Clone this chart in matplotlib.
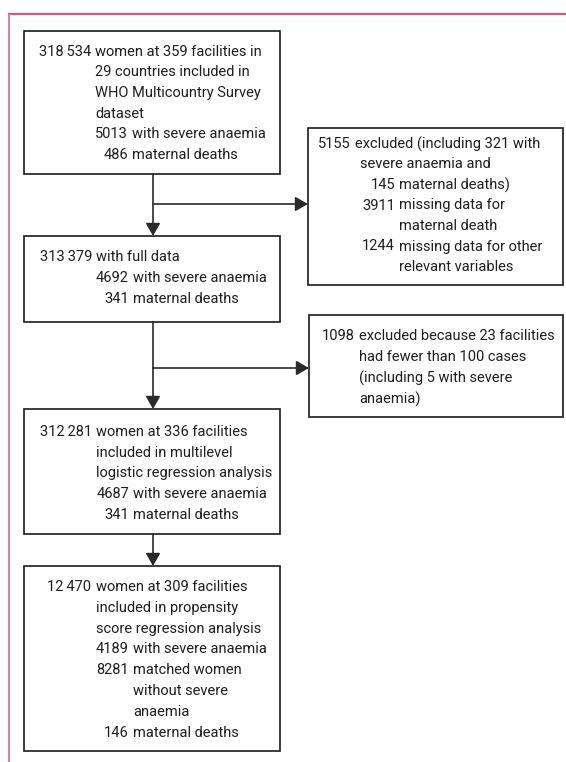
import matplotlib.pyplot as plt
from matplotlib.patches import Rectangle

plt.rcParams['font.family'] = ['Roboto', 'DejaVu Sans']

TS = '\u2009'  # thin space used as thousands separator

# box contents: (number, text, level)
box_cohort = [
    ('318' + TS + '534', 'women at 359 facilities in', 0),
    (None, '29 countries included in', 0),
    (None, 'WHO Multicountry Survey', 0),
    (None, 'dataset', 0),
    ('5013', 'with severe anaemia', 1),
    ('486', 'maternal deaths', 1),
]
box_excl1 = [
    ('5155', 'excluded (including 321 with', 0),
    (None, 'severe anaemia and', 2),
    ('145', 'maternal deaths)', 1),
    ('3911', 'missing data for', 1),
    (None, 'maternal death', 1),
    ('1244', 'missing data for other', 1),
    (None, 'relevant variables', 1),
]
box_full = [
    ('313' + TS + '379', 'with full data', 0),
    ('4692', 'with severe anaemia', 1),
    ('341', 'maternal deaths', 1),
]
box_excl2 = [
    ('1098', 'excluded because 23 facilities', 0),
    (None, 'had fewer than 100 cases', 0),
    (None, '(including 5 with severe', 0),
    (None, 'anaemia)', 0),
]
box_multi = [
    ('312' + TS + '281', 'women at 336 facilities', 0),
    (None, 'included in multilevel', 0),
    (None, 'logistic regression analysis', 0),
    ('4687', 'with severe anaemia', 1),
    ('341', 'maternal deaths', 1),
]
box_prop = [
    ('12' + TS + '470', 'women at 309 facilities', 0),
    (None, 'included in propensity', 0),
    (None, 'score regression analysis', 0),
    ('4189', 'with severe anaemia', 1),
    ('8281', 'matched women', 1),
    (None, 'without severe', 1),
    (None, 'anaemia', 1),
    ('146', 'maternal deaths', 1),
]

# layout in pixel coordinates: rect (x0, y0, x1, y1), first line y, line step,
# columns per level: (number right edge, text left edge)
layout = [
    (box_cohort, (24, 31, 280, 174), 51.5, 20.7, [(91, 95), (128, 132)]),
    (box_excl1, (308, 128, 563, 285), 144, 20.5, [(351, 355), (395, 399), (None, 360)]),
    (box_full, (24, 236, 280, 322), 257, 21, [(92, 96), (129, 133)]),
    (box_excl2, (309, 315, 563, 417), 336, 21, [(355, 359)]),
    (box_multi, (24, 409, 280, 534), 432, 20.7, [(92, 96), (129, 133)]),
    (box_prop, (24, 566, 280, 751), 587, 20.8, [(91, 96), (129, 133)]),
]

W, H = 566, 762
fig = plt.figure(figsize=(W / 100, H / 100), dpi=100)
ax = fig.add_axes([0, 0, 1, 1])
ax.set_xlim(0, W)
ax.set_ylim(H, 0)
ax.axis('off')

# pink frame
ax.plot([8, W], [14, 14], color='#d6577c', lw=1.6, solid_capstyle='butt')
ax.plot([9, 9], [14, H], color='#e07d9b', lw=1.4, solid_capstyle='butt')

txt_color = '#1e1e1e'
fs = 10.5

for lines, (x0, y0, x1, y1), ystart, step, cols in layout:
    ax.add_patch(Rectangle((x0, y0), x1 - x0, y1 - y0, facecolor='white',
                           edgecolor='#1a1a1a', lw=1.2))
    for i, (num, text, lvl) in enumerate(lines):
        y = ystart + i * step
        nx, tx = cols[lvl]
        if num is not None:
            ax.text(nx, y, num, ha='right', va='center', fontsize=fs, color=txt_color)
        ax.text(tx, y, text, ha='left', va='center', fontsize=fs, color=txt_color)

arrow_kw = dict(arrowstyle='-|>,head_length=0.35,head_width=0.2', lw=1.2,
                color='#2a2a2a', mutation_scale=22, shrinkA=0, shrinkB=0)

def arrow(x1, y1, x2, y2):
    ax.annotate('', xy=(x2, y2), xytext=(x1, y1), arrowprops=arrow_kw)

cx = 153
arrow(cx, 174, cx, 236)
arrow(cx, 204, 308, 204)
arrow(cx, 322, cx, 409)
arrow(cx, 368, 309, 368)
arrow(cx, 534, cx, 566)

plt.savefig('out.png', dpi=100)
plt.close()
